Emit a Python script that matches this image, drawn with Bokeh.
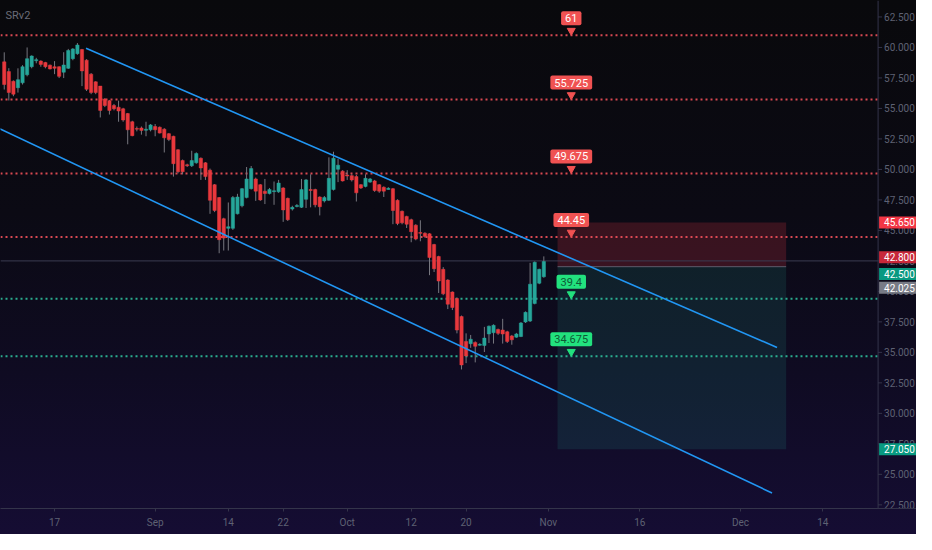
import numpy as np
from bokeh.plotting import figure
from bokeh.models import Range1d, Label, Span, FixedTicker, ColumnDataSource
from bokeh.core.properties import value
from bokeh.embed import file_html
from bokeh.resources import INLINE

FONT = "Roboto"

# ---------------- data ----------------
bar_index = list(range(-11, 108))  # 4h bars, 2 per trading day, 0 = Aug 17 (first bar)
opens = [58.82, 58.02, 57.23, 56.70, 57.10, 57.76, 58.42, 58.95, 58.88, 58.77, 58.55,
         58.42, 58.42, 57.97, 58.29, 59.08, 59.49, 59.83, 58.96, 57.81, 57.18,
         56.83, 55.77, 55.64, 55.24, 55.10, 54.97, 54.58, 53.91, 53.36, 53.40,
         53.25, 53.25, 53.52, 53.46, 53.30, 52.93, 52.72, 51.61, 50.73, 50.38,
         50.30, 50.54, 50.91, 50.54, 49.94, 48.75, 47.69, 45.96, 45.17, 45.17,
         46.36, 47.02, 47.69, 48.42, 49.22, 48.75, 48.22, 48.02, 48.22, 48.16,
         48.48, 47.63, 46.75, 46.96, 46.89, 47.55, 48.35, 48.35, 47.74, 47.42,
         47.47, 48.35, 50.01, 49.86, 49.54, 49.49, 49.41, 48.75, 48.61, 48.96,
         49.06, 48.75, 48.54, 48.40, 48.42, 47.47, 46.57, 46.15, 45.88, 45.43,
         44.83, 44.77, 44.72, 43.84, 42.86, 41.81, 40.93, 39.95, 39.42, 37.94,
         35.90, 35.71, 35.82, 35.63, 35.56, 36.51, 36.61, 36.88, 36.83, 36.69,
         36.35, 36.25, 36.30, 37.49, 37.57, 39.00, 40.67, 41.20]
highs = [59.60, 58.30, 57.30, 58.29, 58.55, 60.00, 59.35, 59.15, 58.95, 58.82, 58.60,
         58.88, 58.45, 59.61, 59.88, 59.94, 60.36, 59.88, 59.04, 57.90, 57.23,
         56.83, 55.85, 55.70, 55.37, 55.64, 55.05, 54.63, 53.99, 53.52, 53.52,
         53.91, 53.72, 53.72, 53.52, 53.38, 52.99, 52.76, 51.66, 50.81, 50.47,
         51.53, 51.40, 50.99, 50.60, 50.07, 48.80, 47.74, 46.04, 47.29, 47.82,
         48.00, 48.48, 50.20, 50.28, 49.33, 48.80, 49.22, 48.48, 49.01, 49.14,
         48.54, 47.69, 47.02, 47.16, 49.22, 49.22, 49.60, 48.42, 47.79, 47.82,
         50.99, 51.45, 50.87, 49.94, 49.94, 49.60, 49.54, 48.80, 49.60, 49.30,
         49.14, 48.80, 48.61, 48.54, 48.48, 47.55, 46.63, 46.20, 45.96, 45.51,
         45.83, 44.85, 44.77, 43.90, 42.92, 41.99, 41.00, 40.00, 39.50, 38.02,
         36.56, 36.43, 35.90, 35.75, 37.09, 37.20, 37.30, 36.95, 37.75, 36.77,
         36.43, 36.60, 37.49, 38.36, 42.34, 42.45, 41.86, 42.87]
lows = [56.55, 55.65, 56.00, 56.30, 56.96, 57.63, 58.29, 58.70, 58.42, 58.29, 58.20,
        57.81, 57.49, 57.49, 58.24, 58.95, 59.40, 56.83, 56.43, 56.17, 56.17,
        54.26, 55.11, 54.50, 54.84, 53.91, 53.91, 52.06, 52.72, 53.12, 52.85,
        52.72, 53.12, 52.72, 52.95, 51.39, 52.32, 49.41, 49.68, 49.60, 50.20,
        50.20, 50.47, 49.14, 49.14, 46.36, 46.50, 43.13, 43.35, 43.35, 45.04,
        46.31, 46.89, 47.63, 48.35, 47.42, 47.42, 47.16, 47.95, 47.10, 48.08,
        45.70, 45.77, 46.63, 46.89, 46.84, 46.84, 46.89, 46.89, 46.23, 47.29,
        47.42, 48.27, 48.96, 49.01, 49.14, 49.01, 47.37, 48.40, 48.53, 48.90,
        48.16, 48.08, 47.74, 48.35, 45.51, 45.43, 45.50, 45.20, 44.03, 44.19,
        44.11, 44.40, 41.33, 41.59, 39.87, 39.69, 38.55, 38.47, 36.56, 33.60,
        34.12, 35.37, 34.18, 35.55, 35.03, 35.77, 35.72, 36.43, 35.72, 35.77,
        35.63, 36.20, 36.25, 37.41, 37.49, 38.94, 40.59, 41.12]
closes = [56.96, 56.30, 56.17, 57.36, 58.42, 59.08, 59.30, 59.00, 58.61, 58.42, 58.24,
          58.29, 57.63, 58.56, 59.75, 59.88, 60.20, 58.08, 56.57, 56.30, 56.30,
          54.84, 55.24, 54.84, 54.97, 54.79, 54.05, 53.25, 52.77, 53.30, 53.20,
          53.30, 53.65, 53.25, 52.98, 52.59, 52.46, 50.47, 49.81, 49.81, 50.30,
          50.73, 51.31, 50.12, 49.41, 47.47, 46.63, 44.24, 44.37, 45.30, 47.69,
          47.74, 48.42, 49.22, 50.07, 48.22, 47.50, 48.02, 48.35, 48.25, 48.88,
          46.68, 45.88, 46.89, 47.05, 48.35, 49.14, 48.32, 47.10, 46.94, 47.69,
          49.27, 50.92, 50.35, 49.06, 49.50, 49.14, 48.08, 48.48, 49.27, 49.22,
          48.27, 48.22, 48.22, 48.45, 46.63, 45.57, 45.62, 45.51, 44.90, 44.29,
          44.80, 44.51, 42.78, 41.86, 40.85, 39.80, 38.95, 38.68, 36.83, 33.97,
          34.71, 36.08, 35.50, 35.66, 36.17, 37.15, 37.22, 36.56, 36.51, 35.90,
          36.03, 36.51, 37.41, 38.28, 40.59, 42.39, 41.81, 42.45]

date_ticks = [0, 22, 38, 50, 64, 78, 90, 108, 128, 150, 168]
date_labels = ["17", "Sep", "14", "22", "Oct", "12", "20", "Nov", "16", "Dec", "14"]

price_ticks = [62.5, 60.0, 57.5, 55.0, 52.5, 50.0, 47.5, 45.0, 42.5, 40.0,
               37.5, 35.0, 32.5, 30.0, 27.5, 25.0, 22.5]
price_tick_labels = ["%.3f" % t for t in price_ticks]

resistance_levels = [61.0, 55.725, 49.675, 44.45]
support_levels = [39.4, 34.675]

upper_trend_x = [6.88, 158.0]
upper_trend_y = [59.93, 35.40]
lower_trend_x = [-12.0, 156.9]
lower_trend_y = [53.33, 23.47]

position_left, position_right = 110, 160
stop_price = 45.65
entry_price = 42.025
target_price = 27.05
last_price = 42.5
indicator_price = 42.8

callout_bar = 113

# ---------------- figure ----------------
X0, X1, XE = -11.82, 180.1, 188.5   # XE: right end of the price-scale column
Y0, Y1 = 22.2, 63.85
W, H = 916, 534
BB = 26
ppu = (H - BB) / (Y1 - Y0)
ppx = W / (XE - X0)

AX_COL = "#34344a"
LBL_COL = "#5e6173"

p = figure(width=W, height=H, x_range=Range1d(X0, XE), y_range=Range1d(Y0, Y1),
           output_backend="svg", toolbar_location=None, y_axis_location=None,
           min_border_left=0, min_border_top=0, min_border_right=0, min_border_bottom=BB)
p.background_fill_alpha = 0
p.border_fill_alpha = 0
p.outline_line_color = None
p.styles = {"background": "linear-gradient(to bottom, #09090c 0%, #0b0a14 40%, #0f0b22 70%, #150d33 100%)"}
p.grid.visible = False

ax = p.xaxis[0]
ax.axis_line_color = AX_COL
ax.major_tick_line_color = AX_COL
ax.minor_tick_line_color = None
ax.major_tick_in = 0
ax.major_tick_out = 3
ax.major_label_standoff = 5
ax.major_label_text_color = LBL_COL
ax.major_label_text_font = FONT
ax.major_label_text_font_size = "10px"
ax.ticker = FixedTicker(ticks=date_ticks)
ax.major_label_overrides = {t: l for t, l in zip(date_ticks, date_labels)}

# price scale (right column)
p.add_layout(Span(location=X1, dimension="height", line_color=AX_COL, line_width=1))
p.segment(x0=[X1] * len(price_ticks), x1=[X1 + 4 / ppx] * len(price_ticks),
          y0=price_ticks, y1=price_ticks, line_color=AX_COL, line_width=1)
p.text(x=[X1] * len(price_ticks), y=price_ticks, text=price_tick_labels, x_offset=6,
       text_align="left", text_baseline="middle", text_color=LBL_COL,
       text_font=value(FONT), text_font_size="10px")

# position tool
p.quad(left=position_left, right=position_right, top=stop_price, bottom=entry_price,
       fill_color="#f23645", fill_alpha=0.2, line_color=None)
p.quad(left=position_left, right=position_right, top=entry_price, bottom=target_price,
       fill_color="#22ab94", fill_alpha=0.14, line_color=None)
p.segment(x0=position_left, x1=position_right, y0=entry_price, y1=entry_price,
          line_color="#6b6e80", line_width=1, line_alpha=0.8)

# price line
p.segment(x0=X0, x1=X1, y0=last_price, y1=last_price, line_color="#3b3c52", line_width=1)

# levels
n_r, n_s = len(resistance_levels), len(support_levels)
p.segment(x0=[X0] * n_r, x1=[X1] * n_r, y0=resistance_levels, y1=resistance_levels,
          line_color="#f0505a", line_width=2, line_dash="2 3", line_alpha=0.9)
p.segment(x0=[X0] * n_s, x1=[X1] * n_s, y0=support_levels, y1=support_levels,
          line_color="#2fbf9c", line_width=2, line_dash="2 3", line_alpha=0.9)

# candles
src = ColumnDataSource(dict(x=bar_index, o=opens, h=highs, l=lows, c=closes,
                            top=[max(a, b) for a, b in zip(opens, closes)],
                            bot=[min(a, b) if abs(a - b) > 0.06 else min(a, b) - 0.04 for a, b in zip(opens, closes)],
                            col=["#26a69a" if c >= o else "#e8383d" for o, c in zip(opens, closes)]))
p.segment(x0="x", x1="x", y0="h", y1="l", source=src, line_color="#77777f", line_width=1)
p.vbar(x="x", width=0.72, top="top", bottom="bot", source=src, fill_color="col", line_color="col", line_width=0.5)

# trend lines
p.line(upper_trend_x, upper_trend_y, line_color="#2196f3", line_width=1.6)
p.line(lower_trend_x, lower_trend_y, line_color="#2196f3", line_width=1.6)

# callouts
def fmt(v):
    return ("%.3f" % v).rstrip("0").rstrip(".")

for lv in resistance_levels + support_levels:
    red = lv in resistance_levels
    bg = "#f05252" if red else "#22e27e"
    tc = "#ffffff" if red else "#0e5a35"
    p.scatter([callout_bar], [lv + 4.6 / ppu], marker="inverted_triangle", size=8,
              fill_color=bg, line_color=bg)
    p.add_layout(Label(x=callout_bar, y=lv, y_offset=17, text=fmt(lv), text_align="center",
                       text_baseline="middle", text_color=tc, text_font=FONT,
                       text_font_size="11px", background_fill_color=bg,
                       padding=dict(left=4, right=4, top=3, bottom=3), border_radius=2))

# price-scale value labels
scale_labels = [(stop_price, "#f23645", 0), (indicator_price, "#c8283a", 0),
                (last_price, "#089981", -13), (entry_price, "#787b86", -21),
                (target_price, "#089981", 0)]
for v, bg, off in scale_labels:
    p.add_layout(Label(x=X1, y=v, x_offset=1, y_offset=off, text="%.3f" % v,
                       text_align="left", text_baseline="middle", text_color="#ffffff",
                       text_font=FONT, text_font_size="10px", background_fill_color=bg,
                       padding=dict(left=5, right=4, top=2, bottom=2)))

p.add_layout(Label(x=X0 + 5 / ppx, y=Y1 - 15 / ppu, text="SRv2", text_align="left",
                   text_baseline="middle", text_color="#6a6c78", text_font=FONT,
                   text_font_size="11px"))

open("out.html", "w").write(file_html(p, INLINE))
